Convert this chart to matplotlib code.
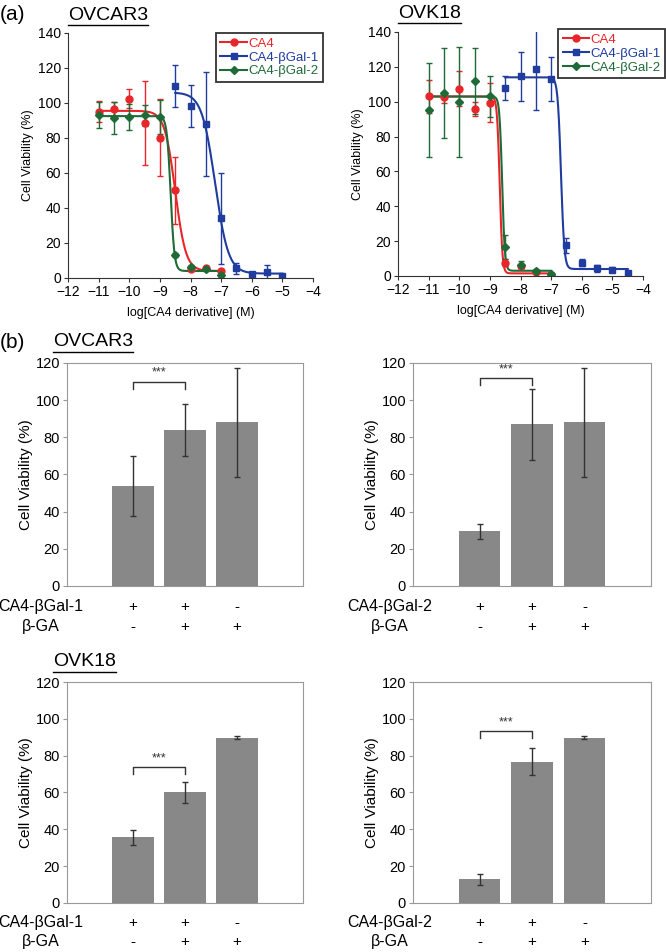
import matplotlib as mpl
mpl.use('Agg')
import matplotlib.pyplot as plt
import numpy as np

# fonts: Arial-like
plt.rcParams['font.family'] = ['Liberation Sans', 'DejaVu Sans']

# ---- (a) dose response data ----
conc_short = [-11, -10.5, -10, -9.5, -9, -8.5, -8, -7.5, -7]
conc_gal1_ov = [-8.5, -8, -7.5, -7, -6.5, -6, -5.5, -5]
conc_gal1_ovk = [-8.5, -8, -7.5, -7, -6.5, -6, -5.5, -5, -4.5]

ov_ca4 = [95, 96.5, 102.5, 88.5, 80, 50, 5, 5.5, 4]
ov_ca4_err = [6, 4, 5.5, 24, 22, 19, 1, 1, 1]
ov_gal1 = [109.5, 98, 88, 34, 5.5, 2.5, 3.5, 1]
ov_gal1_err = [12, 12, 29.5, 26, 3, 1, 4, 1]
ov_gal2 = [93, 91.5, 92, 93, 92, 13, 6.5, 5, 1.5]
ov_gal2_err = [7.5, 9, 7.5, 6, 9.5, 1, 1, 1, 1]

ovk_ca4 = [103, 102.5, 107.5, 96, 99.5, 7.5, 5.5, 2.5, 0]
ovk_ca4_err = [9.5, 3, 10, 4, 11, 2, 1, 1, 1]
ovk_gal1 = [108, 114.5, 118.5, 113, 17.5, 7.5, 4.5, 3.5, 1.5]
ovk_gal1_err = [7, 14, 23, 12.5, 4.5, 2, 2, 1.5, 1]
ovk_gal2 = [95, 105, 100, 112, 103, 16.5, 6.5, 3, 1]
ovk_gal2_err = [27, 26, 31.5, 19, 12, 7, 2, 1, 1]

# fitted curve parameters: top, bottom, logEC50, hill slope
ov_ca4_fit = (95.5, 4, -8.5, 2.5)
ov_gal1_fit = (106, 2.5, -7.2, 2.0)
ov_gal2_fit = (92.5, 4, -8.65, 7)
ovk_ca4_fit = (103, 1.5, -8.68, 10)
ovk_gal1_fit = (114, 4, -6.68, 8)
ovk_gal2_fit = (103, 3, -8.6, 10)

# ---- (b) bar data ----
ov_bar1 = [53.8, 84.0, 88.0]
ov_bar1_err = [16, 13.8, 29.3]
ov_bar2 = [29.5, 86.9, 88.0]
ov_bar2_err = [4.1, 19, 29.3]
ovk_bar1 = [35.8, 60.1, 89.8]
ovk_bar1_err = [4.1, 5.8, 0.7]
ovk_bar2 = [12.9, 76.7, 89.8]
ovk_bar2_err = [3, 7.4, 0.7]
bracket_y = [106, 108, 70, 89.5]
gal_row = ['+', '+', '-']
ga_row = ['-', '+', '+']

red = '#e8262a'
blue = '#1f3c9e'
green = '#1e6b38'


def hill(x, top, bottom, c, h):
    return bottom + (top - bottom) / (1 + 10 ** ((x - c) * h))


fig = plt.figure(figsize=(6.66, 9.52), dpi=100)


def dose_panel(rect, series, legend_anchor):
    ax = fig.add_axes(rect)
    for x, y, e, fit, col, mk, ms, lab, xr in series:
        xs = np.linspace(xr[0], xr[1], 300)
        ax.plot(xs, hill(xs, *fit), color=col, lw=1.5)
        ax.errorbar(x, y, yerr=e, fmt=mk, color=col, ms=ms, capsize=2,
                    elinewidth=1, capthick=1)
        ax.plot([], [], color=col, marker=mk, ms=ms, lw=1.5, label=lab)
    ax.set_xlim(-12, -4)
    ax.set_ylim(0, 140)
    ax.set_xticks(range(-12, -3))
    ax.set_yticks(range(0, 141, 20))
    ax.spines['top'].set_visible(False)
    ax.spines['right'].set_visible(False)
    for s in ['left', 'bottom']:
        ax.spines[s].set_color('#333333')
    ax.tick_params(labelsize=10, length=3, color='#333333', pad=2)
    ax.set_ylabel('Cell Viability (%)', fontsize=9, labelpad=3)
    ax.set_xlabel('log[CA4 derivative] (M)', fontsize=9, labelpad=6)
    leg = ax.legend(loc='upper right', bbox_to_anchor=legend_anchor, fontsize=9.5,
                    frameon=True, fancybox=False, handlelength=2.0,
                    handletextpad=0.1, borderpad=0.35, labelspacing=0.12,
                    borderaxespad=0)
    leg.get_frame().set_edgecolor('black')
    leg.get_frame().set_linewidth(1.3)
    for t, s in zip(leg.get_texts(), series):
        t.set_color(s[4])
    return ax


dose_panel([0.1021, 0.708, 0.368, 0.2574], [
    (conc_short, ov_ca4, ov_ca4_err, ov_ca4_fit, red, 'o', 5, 'CA4', (-11, -7)),
    (conc_gal1_ov, ov_gal1, ov_gal1_err, ov_gal1_fit, blue, 's', 5, 'CA4-βGal-1', (-8.5, -5)),
    (conc_short, ov_gal2, ov_gal2_err, ov_gal2_fit, green, 'D', 4, 'CA4-βGal-2', (-11, -7)),
], (1.04, 1.0))

dose_panel([0.5976, 0.7101, 0.368, 0.2563], [
    (conc_short, ovk_ca4, ovk_ca4_err, ovk_ca4_fit, red, 'o', 5, 'CA4', (-11, -7)),
    (conc_gal1_ovk, ovk_gal1, ovk_gal1_err, ovk_gal1_fit, blue, 's', 5, 'CA4-βGal-1', (-8.5, -4.5)),
    (conc_short, ovk_gal2, ovk_gal2_err, ovk_gal2_fit, green, 'D', 4, 'CA4-βGal-2', (-11, -7)),
], (1.09, 1.012))


def bar_panel(rect, vals, errs, by, gal_label, row_px):
    ax = fig.add_axes(rect)
    pos = [1, 2, 3]
    ax.bar(pos, vals, width=0.79, color='#888888')
    ax.errorbar(pos, vals, yerr=errs, fmt='none', ecolor='#333333',
                elinewidth=1, capsize=2, capthick=1)
    # significance bracket between first two bars
    ax.plot([1, 1, 2, 2], [by, by + 4, by + 4, by], color='#333333', lw=1)
    ax.text(1.5, by + 5.5, '***', ha='center', va='bottom', fontsize=9, color='#333333')
    ax.set_xlim(-0.27, 4.27)
    ax.set_ylim(0, 120)
    ax.set_yticks(range(0, 121, 20))
    ax.set_xticks([])
    for s in ax.spines.values():
        s.set_color('#999999')
    ax.tick_params(axis='y', labelsize=10.5, length=3, color='#999999', pad=2)
    ax.set_ylabel('Cell Viability (%)', fontsize=11, labelpad=2)
    # +/- rows under the bars
    h_px = rect[3] * 952
    for p, g, b in zip(pos, gal_row, ga_row):
        ax.text(p, -row_px[0] / h_px * 120, g, ha='center', va='center', fontsize=11)
        ax.text(p, -row_px[1] / h_px * 120, b, ha='center', va='center', fontsize=11)
    fx = 41 / 666 if rect[0] < 0.5 else 390 / 666
    y0 = rect[1] * 952
    fig.text(fx, (y0 - row_px[0]) / 952, gal_label, ha='center', va='center', fontsize=11.5)
    fig.text(fx, (y0 - row_px[1]) / 952, 'β-GA', ha='center', va='center', fontsize=11.5)
    return ax


bar_panel([0.1006, 0.3845, 0.3544, 0.2342], ov_bar1, ov_bar1_err, bracket_y[0], 'CA4-βGal-1', (21, 41))
bar_panel([0.6201, 0.3845, 0.3574, 0.2342], ov_bar2, ov_bar2_err, bracket_y[1], 'CA4-βGal-2', (21, 41))
bar_panel([0.1006, 0.0515, 0.3544, 0.2321], ovk_bar1, ovk_bar1_err, bracket_y[2], 'CA4-βGal-1', (20, 39))
bar_panel([0.6201, 0.0515, 0.3574, 0.2321], ovk_bar2, ovk_bar2_err, bracket_y[3], 'CA4-βGal-2', (20, 39))

# panel letters
fig.text(0 / 666, 1 - 15 / 952, '(a)', fontsize=15, va='center')
fig.text(0 / 666, 1 - 342 / 952, '(b)', fontsize=15, va='center')

# underlined cell line titles
renderer = fig.canvas.get_renderer()
for tx, ty, label in [(68, 15, 'OVCAR3'), (398, 13, 'OVK18'),
                      (53, 342, 'OVCAR3'), (53, 662, 'OVK18')]:
    t = fig.text(tx / 666, 1 - ty / 952, label, fontsize=14, va='center')
    bb = t.get_window_extent(renderer)
    fig.add_artist(plt.Line2D([bb.x0 / 666, bb.x1 / 666], [(bb.y0 - 1) / 952, (bb.y0 - 1) / 952],
                              color='black', lw=1))

plt.savefig('out.png', dpi=100)
plt.close()
